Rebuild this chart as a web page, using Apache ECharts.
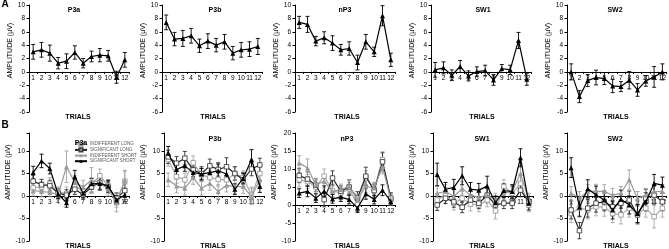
<!DOCTYPE html>
<html><head><meta charset="utf-8">
<script src="https://cdn.jsdelivr.net/npm/echarts@6/dist/echarts.min.js"></script>
<style>html,body{margin:0;padding:0;background:#fff}#c{width:669px;height:249px}</style>
</head><body><div id="c"></div>
<script>
// ---------- DATA ----------
const trials = ['1','2','3','4','5','6','7','8','9','10','11','12'];
const panelNames = ['P3a','P3b','nP3','SW1','SW2'];
const seriesNamesB = ['INDIFFERENT LONG','SIGNIFICANT LONG','INDIFFERENT SHORT','SIGNIFICANT SHORT'];

// Row A (mean amplitude, µV, with error)
const aP3a    = [3.0, 3.3, 2.8, 1.3, 1.6, 2.9, 1.3, 2.3, 2.5, 2.4, -0.8, 1.8];
const aP3aErr = [1.1, 1.1, 1.2, 0.85, 1.1, 1.0, 0.7, 0.8, 1.0, 0.8, 0.9, 1.1];
const aP3b    = [7.4, 4.9, 5.0, 5.4, 3.9, 4.6, 4.0, 4.5, 2.8, 3.3, 3.4, 3.8];
const aP3bErr = [1.1, 1.0, 1.2, 1.1, 1.0, 1.1, 1.0, 1.1, 1.0, 1.1, 1.1, 1.2];
const anP3    = [7.4, 7.1, 4.6, 5.1, 4.3, 3.3, 3.5, 1.4, 4.5, 3.0, 8.4, 1.8];
const anP3Err = [0.9, 1.2, 0.7, 0.9, 1.1, 0.8, 1.0, 1.1, 1.1, 0.7, 1.5, 1.0];
const aSW1    = [0.3, 0.6, -0.5, 0.8, -0.6, 0.05, 0.2, -1.2, 0.5, 0.3, 4.7, -1.1];
const aSW1Err = [1.1, 0.9, 0.8, 0.9, 0.75, 0.7, 0.8, 0.8, 0.6, 0.7, 1.2, 0.9];
const aSW2    = [0.0, -3.7, -1.3, -0.85, -1.0, -2.1, -2.2, -1.25, -2.7, -1.35, -0.75, 0.0];
const aSW2Err = [1.2, 0.9, 0.9, 1.1, 0.9, 1.0, 0.75, 1.3, 0.95, 0.8, 1.55, 1.2];

// Row B – P3a
const bP3aIndLong     = [1.8, 2.0, 2.8, 1.0, 0.5, 2.2, 1.0, 2.5, 4.5, 2.3, -1.0, 3.3];
const bP3aIndLongErr  = [1.2, 1.2, 1.3, 1.0, 1.5, 1.5, 1.2, 1.5, 1.5, 1.3, 1.5, 2.2];
const bP3aSigLong     = [3.3, 2.5, 2.3, 0.6, 0.2, 1.5, 0.3, 2.0, 3.0, 2.0, -0.5, 1.2];
const bP3aSigLongErr  = [1.3, 1.2, 1.2, 1.0, 1.2, 1.2, 1.0, 1.3, 1.5, 1.3, 1.2, 1.5];
const bP3aIndShort    = [1.2, 1.0, 0.8, 0.3, 6.5, 3.0, 2.0, 3.5, 3.0, 1.5, -1.5, 3.5];
const bP3aIndShortErr = [1.2, 1.2, 1.0, 1.0, 3.5, 1.5, 1.5, 2.8, 1.5, 1.5, 2.0, 2.2];
const bP3aSigShort    = [5.2, 7.8, 6.1, 0.4, -1.5, 4.3, 0.6, 2.7, 2.8, 2.2, -0.9, 0.2];
const bP3aSigShortErr = [1.4, 1.5, 1.2, 1.0, 1.0, 1.4, 1.0, 1.2, 1.5, 1.3, 1.0, 1.5];
// Row B – P3b
const bP3bIndLong     = [8.1, 4.3, 3.6, 7.4, 4.7, 4.1, 3.7, 3.6, 5.0, 4.1, 0.2, 5.0];
const bP3bIndLongErr  = [1.5, 1.5, 1.5, 1.5, 1.5, 1.5, 1.5, 1.5, 1.5, 1.5, 1.8, 1.5];
const bP3bSigLong     = [8.7, 7.3, 8.4, 5.8, 5.0, 6.7, 5.9, 6.5, 5.0, 3.6, 6.0, 6.9];
const bP3bSigLongErr  = [1.5, 1.5, 1.5, 1.5, 1.5, 1.5, 1.5, 2.0, 1.5, 1.5, 1.5, 1.5];
const bP3bIndShort    = [3.6, 2.2, 1.7, 4.1, 1.7, 2.8, 1.0, 2.4, 2.1, 2.1, -0.1, 3.6];
const bP3bIndShortErr = [1.5, 1.5, 1.5, 1.5, 1.5, 1.5, 1.5, 1.5, 1.5, 1.5, 1.8, 1.5];
const bP3bSigShort    = [9.5, 5.9, 6.7, 5.2, 4.9, 5.2, 5.6, 4.9, 1.5, 3.9, 8.1, 2.1];
const bP3bSigShortErr = [1.5, 1.3, 1.2, 1.2, 1.2, 1.2, 1.5, 1.3, 1.2, 1.2, 2.2, 1.3];
// Row B – nP3
const bnP3IndLong     = [7.0, 6.5, 5.0, 8.0, 4.0, 3.3, 4.5, 0.1, 7.5, 4.5, 12.6, 1.5];
const bnP3IndLongErr  = [2.0, 2.0, 1.8, 2.0, 1.8, 1.5, 1.8, 1.8, 2.0, 1.8, 2.2, 1.5];
const bnP3SigLong     = [8.2, 7.2, 5.5, 1.5, 7.5, 3.8, 5.0, 1.9, 8.0, 4.0, 12.0, 1.9];
const bnP3SigLongErr  = [2.0, 2.0, 1.8, 2.0, 2.0, 1.5, 2.0, 1.8, 2.5, 1.8, 2.5, 1.5];
const bnP3IndShort    = [11.7, 10.3, 5.6, 6.6, 3.8, 4.3, 5.2, 1.5, 5.2, 4.7, 10.7, 1.5];
const bnP3IndShortErr = [2.0, 2.5, 1.8, 1.8, 1.5, 1.5, 1.8, 1.5, 1.8, 1.5, 2.0, 1.5];
const bnP3SigShort    = [3.3, 3.8, 1.9, 3.8, 1.7, 2.2, 1.5, -0.8, 3.1, 1.5, 4.1, 1.0];
const bnP3SigShortErr = [1.2, 1.5, 1.2, 1.5, 1.2, 1.2, 1.2, 1.2, 1.5, 1.2, 1.5, 1.0];
// Row B – SW1
const bSW1IndLong     = [-0.9, 0.4, -1.6, -0.5, -1.8, -2.0, -0.9, -3.3, 2.1, 0.6, 2.8, -2.0];
const bSW1IndLongErr  = [1.5, 1.5, 1.5, 1.5, 1.5, 1.5, 1.5, 1.8, 1.5, 1.5, 1.8, 1.5];
const bSW1SigLong     = [-2.0, -0.5, -1.3, -2.5, -0.9, -1.6, 0.2, -2.0, -1.6, -1.6, 1.3, -1.3];
const bSW1SigLongErr  = [1.2, 1.2, 1.2, 1.2, 1.2, 1.2, 1.5, 1.5, 1.2, 1.2, 1.5, 1.2];
const bSW1IndShort    = [0.6, 1.0, -0.1, 1.7, 0.2, -0.3, 0.2, -0.9, 0.6, 1.0, 5.0, -0.9];
const bSW1IndShortErr = [1.5, 1.5, 1.5, 1.5, 1.5, 1.5, 1.5, 1.5, 1.5, 1.5, 1.8, 1.5];
const bSW1SigShort    = [4.8, 1.5, 1.9, 4.5, 1.5, 1.3, 2.2, -1.5, 1.2, 1.0, 8.5, -1.6];
const bSW1SigShortErr = [2.5, 1.5, 1.8, 2.0, 1.5, 1.5, 2.2, 1.5, 1.5, 1.5, 2.0, 1.5];
// Row B – SW2
const bSW2IndLong     = [-3.9, -2.7, -3.1, -2.4, -2.5, -3.9, -4.2, -2.7, -3.9, -2.7, -4.6, -2.7];
const bSW2IndLongErr  = [2.0, 2.0, 2.0, 2.0, 2.0, 2.0, 2.0, 2.0, 2.0, 2.0, 2.5, 2.0];
const bSW2SigLong     = [-3.1, -7.7, -2.7, -1.6, -1.3, -2.4, -1.6, -0.9, -4.2, -0.5, 0.2, -1.3];
const bSW2SigLongErr  = [2.0, 1.8, 2.0, 2.0, 2.0, 2.0, 2.0, 2.0, 2.0, 2.0, 2.0, 2.0];
const bSW2IndShort    = [0.6, -0.5, 1.0, 1.1, 1.0, 0.2, 0.6, 3.6, -0.5, 0.2, 1.0, 1.0];
const bSW2IndShortErr = [1.5, 1.5, 1.5, 1.5, 1.5, 1.5, 1.5, 2.2, 1.5, 1.5, 1.5, 1.5];
const bSW2SigShort    = [6.3, -2.5, 1.6, 0.2, -0.9, -3.1, -0.7, -2.0, -3.9, -1.3, 2.8, 2.4];
const bSW2SigShortErr = [2.2, 2.0, 2.0, 2.0, 2.0, 2.0, 2.0, 2.0, 2.0, 2.0, 2.0, 1.8];

const rowA = [[aP3a,aP3aErr],[aP3b,aP3bErr],[anP3,anP3Err],[aSW1,aSW1Err],[aSW2,aSW2Err]];
const rowB = [
  [[bP3aIndLong,bP3aIndLongErr],[bP3aSigLong,bP3aSigLongErr],[bP3aIndShort,bP3aIndShortErr],[bP3aSigShort,bP3aSigShortErr]],
  [[bP3bIndLong,bP3bIndLongErr],[bP3bSigLong,bP3bSigLongErr],[bP3bIndShort,bP3bIndShortErr],[bP3bSigShort,bP3bSigShortErr]],
  [[bnP3IndLong,bnP3IndLongErr],[bnP3SigLong,bnP3SigLongErr],[bnP3IndShort,bnP3IndShortErr],[bnP3SigShort,bnP3SigShortErr]],
  [[bSW1IndLong,bSW1IndLongErr],[bSW1SigLong,bSW1SigLongErr],[bSW1IndShort,bSW1IndShortErr],[bSW1SigShort,bSW1SigShortErr]],
  [[bSW2IndLong,bSW2IndLongErr],[bSW2SigLong,bSW2SigLongErr],[bSW2IndShort,bSW2IndShortErr],[bSW2SigShort,bSW2SigShortErr]]
];

// ---------- LAYOUT / STYLE ----------
const FONT = '"Liberation Sans", Arial, sans-serif';
const W = 100;
const layoutA = {top:5, height:107, lefts:[29,162,295,431,567]};
const layoutB = {top:133, height:108, lefts:[29,164,295,433,567]};
const titleXA = [69,210,340,478,610];
const titleXB = [76,210,342,477,610];
const trialsX = [78,213,347,482,616];
const stylesB = [
  {line:'#a8a8a8', sym:'rect', fill:'#fff', border:'#9a9a9a', err:'#a8a8a8'},
  {line:'#202020', sym:'rect', fill:'#fff', border:'#404040', err:'#303030'},
  {line:'#9a9a9a', sym:'triangle', fill:'#9a9a9a', border:'#9a9a9a', err:'#a0a0a0'},
  {line:'#000', sym:'triangle', fill:'#000', border:'#000', err:'#000'}
];

function errSeries(xi, yi, vals, errs, color, z) {
  return {
    type:'custom', xAxisIndex:xi, yAxisIndex:yi, z:z, silent:true,
    encode:{x:0, y:[1,2]},
    data: vals.map((v,k)=>[k, v-errs[k], v+errs[k]]),
    renderItem:function(params, api){
      const x = api.value(0);
      const p1 = api.coord([x, api.value(1)]);
      const p2 = api.coord([x, api.value(2)]);
      const w = 2;
      const st = {stroke:color, lineWidth:0.9};
      return {type:'group', children:[
        {type:'line', shape:{x1:p1[0],y1:p1[1],x2:p2[0],y2:p2[1]}, style:st},
        {type:'line', shape:{x1:p1[0]-w,y1:p1[1],x2:p1[0]+w,y2:p1[1]}, style:st},
        {type:'line', shape:{x1:p2[0]-w,y1:p2[1],x2:p2[0]+w,y2:p2[1]}, style:st}
      ]};
    }
  };
}

const grids=[], xAxes=[], yAxes=[], series=[], titles=[];
function addPanel(layout, i, yMin, yMax, interval, labelMax, namePad) {
  const g = grids.length;
  grids.push({left:layout.lefts[i], top:layout.top, width:W, height:layout.height, containLabel:false});
  // place the category axis on the zero line of the value axis
  const zeroOffset = -layout.height * (0 - yMin) / (yMax - yMin);
  xAxes.push({gridIndex:g, type:'category', data:trials, boundaryGap:true, position:'bottom', offset:zeroOffset,
    axisLine:{onZero:false, lineStyle:{color:'#000', width:1}},
    axisTick:{show:true, length:2, interval:0, lineStyle:{color:'#000'}},
    axisLabel:{interval:0, fontSize:6.5, margin:3, color:'#000', fontFamily:FONT},
    splitLine:{show:false}});
  yAxes.push({gridIndex:g, type:'value', min:yMin, max:yMax, interval:interval,
    axisLine:{show:true, onZero:false, lineStyle:{color:'#000', width:1}},
    axisTick:{show:true, length:2.5, lineStyle:{color:'#000'}},
    axisLabel:{fontSize:6.5, margin:4, color:'#000', fontFamily:FONT,
      formatter:function(v){ return v>labelMax ? '' : String(v); }},
    splitLine:{show:false},
    name:'AMPLITUDE (µV)', nameLocation:'middle', nameGap:7,
    nameTextStyle:{fontSize:7, color:'#000', fontFamily:FONT, padding:[0,0,0,namePad]}});
  return g;
}

// Row A
for (let i=0;i<5;i++){
  const g = addPanel(layoutA, i, -6, 10, 2, 10, 16);
  const [vals, errs] = rowA[i];
  series.push(errSeries(g, g, vals, errs, '#000', 2));
  series.push({type:'line', name:panelNames[i], xAxisIndex:g, yAxisIndex:g, data:vals, z:3,
    symbol:'triangle', symbolSize:5, showAllSymbol:true,
    lineStyle:{color:'#000', width:1.2}, itemStyle:{color:'#000'}, silent:true});
  titles.push({text:panelNames[i], left:titleXA[i], top:2, textAlign:'center',
    textStyle:{fontSize:7, fontWeight:'bold', color:'#000', fontFamily:FONT}});
}
// Row B
for (let i=0;i<5;i++){
  const isNP3 = panelNames[i]==='nP3';
  const g = addPanel(layoutB, i, -10, isNP3?20:14, 5, isNP3?20:10, 30);
  for (let s=0;s<4;s++){
    const [vals, errs] = rowB[i][s];
    const st = stylesB[s];
    series.push(errSeries(g, g, vals, errs, st.err, 2+s));
    series.push({type:'line', name:seriesNamesB[s], xAxisIndex:g, yAxisIndex:g, data:vals, z:6+s,
      symbol:st.sym, symbolSize:st.sym==='rect'?4.5:5, showAllSymbol:true,
      lineStyle:{color:st.line, width:1.2},
      itemStyle:{color:st.fill, borderColor:st.border, borderWidth:st.sym==='rect'?0.9:0},
      silent:true});
  }
  titles.push({text:panelNames[i], left:titleXB[i], top:i===0?135:131, textAlign:'center',
    textStyle:{fontSize:7, fontWeight:'bold', color:'#000', fontFamily:FONT}});
}

const graphics = [
  {type:'text', x:5, y:4, style:{text:'A', font:'bold 10px '+FONT, fill:'#000', align:'center', verticalAlign:'middle'}},
  {type:'text', x:5, y:125, style:{text:'B', font:'bold 10px '+FONT, fill:'#000', align:'center', verticalAlign:'middle'}}
];
for (let i=0;i<5;i++){
  graphics.push({type:'text', x:trialsX[i], y:117, style:{text:'TRIALS', font:'bold 7px '+FONT, fill:'#000', align:'center', verticalAlign:'middle'}});
  graphics.push({type:'text', x:trialsX[i], y:246, style:{text:'TRIALS', font:'bold 7px '+FONT, fill:'#000', align:'center', verticalAlign:'middle'}});
}

const chart = echarts.init(document.getElementById('c'));
chart.setOption({
  animation:false,
  backgroundColor:'#fff',
  title:titles,
  grid:grids, xAxis:xAxes, yAxis:yAxes, series:series,
  legend:{data:seriesNamesB, orient:'vertical', left:74, top:141.5, padding:0,
    itemWidth:12, itemHeight:4, itemGap:0.6, selectedMode:false,
    textStyle:{fontSize:4.5, color:'#555', fontFamily:FONT, padding:[0,0,0,-2]}},
  graphic:graphics
});
</script>
</body></html>
